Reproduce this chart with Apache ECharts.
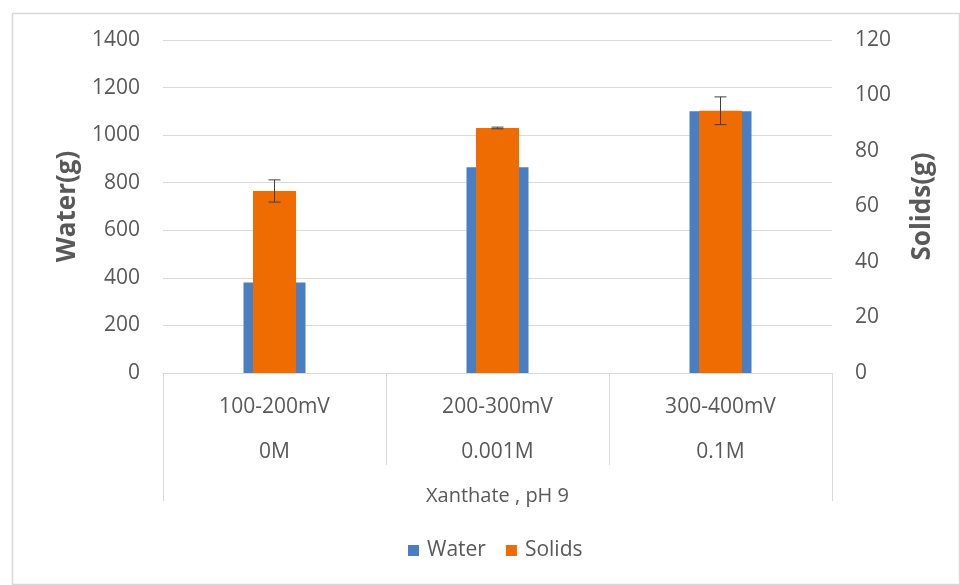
<!DOCTYPE html>
<html>
<head>
<meta charset="utf-8">
<script src="https://cdn.jsdelivr.net/npm/echarts@6/dist/echarts.min.js"></script>
<style>
html,body{margin:0;padding:0;background:#fff;}
#chart{width:960px;height:585px;}
</style>
</head>
<body>
<div id="chart"></div>
<script>
// ---- data ----
const potentials = ['100-200mV', '200-300mV', '300-400mV'];
const concentrations = ['0M', '0.001M', '0.1M'];
const groupLabel = ['Xanthate , pH 9'];
const waterValues = [380, 865, 1100];
const solidsValues = [65.6, 88.3, 94.5];
const solidsErrors = [4, 0.3, 5];
const waterTicks = [0, 1400, 200];   // min, max, interval
const solidsTicks = [0, 120, 20];

const FONT = '"Open Sans", Lato, sans-serif';
const TXT = '#595959';
const GRIDC = '#d9d9d9';

const chart = echarts.init(document.getElementById('chart'), null, {renderer: 'canvas'});

const errorData = solidsValues.map((v, i) => [i, v - solidsErrors[i], v + solidsErrors[i]]);

const option = {
  backgroundColor: '#fff',
  animation: false,
  textStyle: {fontFamily: FONT},
  graphic: [{
    type: 'rect', left: 10, top: 11,
    shape: {width: 947, height: 571},
    style: {fill: 'none', stroke: '#d9d9d9', lineWidth: 1.5},
    silent: true, z: -10
  }],
  grid: {left: 163, right: 128, top: 40, bottom: 212},
  legend: {
    data: ['Water', 'Solids'],
    bottom: 19, left: 403,
    icon: 'rect', itemWidth: 11, itemHeight: 11, itemGap: 20,
    textStyle: {fontFamily: FONT, fontSize: 21, color: TXT, padding: [0, 0, 0, 3]}
  },
  xAxis: [
    {
      type: 'category', data: potentials.map((p, i) => i),
      axisLine: {lineStyle: {color: GRIDC, width: 1}},
      axisTick: {show: true, length: 92, lineStyle: {color: GRIDC}},
      axisLabel: {
        margin: 12, interval: 0,
        formatter: (v) => potentials[v] + '\n' + concentrations[v],
        fontFamily: FONT, fontSize: 21, color: TXT, lineHeight: 45
      }
    },
    {
      type: 'category', data: potentials, show: false
    },
    {
      type: 'category', data: groupLabel, position: 'bottom',
      axisLine: {show: false},
      axisTick: {show: true, length: 128, lineStyle: {color: GRIDC}},
      axisLabel: {margin: 113, fontFamily: FONT, fontSize: 20, color: TXT}
    }
  ],
  yAxis: [
    {
      type: 'value', min: waterTicks[0], max: waterTicks[1], interval: waterTicks[2],
      name: 'Water(g)', nameLocation: 'middle', nameGap: 76, nameRotate: 90,
      nameTextStyle: {fontFamily: FONT, fontSize: 26, fontWeight: 'bold', color: TXT},
      axisLine: {show: false}, axisTick: {show: false},
      axisLabel: {margin: 23, fontFamily: FONT, fontSize: 21, color: TXT, formatter: (v) => String(v)},
      splitLine: {lineStyle: {color: GRIDC, width: 1}}
    },
    {
      type: 'value', min: solidsTicks[0], max: solidsTicks[1], interval: solidsTicks[2],
      name: 'Solids(g)', nameLocation: 'middle', nameGap: 78, nameRotate: 90,
      nameTextStyle: {fontFamily: FONT, fontSize: 26, fontWeight: 'bold', color: TXT},
      axisLine: {show: false}, axisTick: {show: false},
      axisLabel: {margin: 23, fontFamily: FONT, fontSize: 21, color: TXT, formatter: (v) => String(v)},
      splitLine: {show: false}
    }
  ],
  series: [
    {
      name: 'Water', type: 'bar', xAxisIndex: 0, yAxisIndex: 0,
      data: waterValues, barWidth: 62,
      itemStyle: {color: '#4A7EC3'}
    },
    {
      name: 'Solids', type: 'bar', xAxisIndex: 1, yAxisIndex: 1,
      data: solidsValues, barWidth: 43,
      itemStyle: {color: '#EE6C02'}, z: 3
    },
    {
      name: 'SolidsError', type: 'custom', xAxisIndex: 1, yAxisIndex: 1,
      data: errorData, z: 5, silent: true,
      renderItem: function (params, api) {
        const x = api.value(0);
        const lo = api.coord([x, api.value(1)]);
        const hi = api.coord([x, api.value(2)]);
        const cap = 6;
        const st = {stroke: '#404040', lineWidth: 1};
        return {
          type: 'group',
          children: [
            {type: 'line', shape: {x1: hi[0], y1: hi[1], x2: lo[0], y2: lo[1]}, style: st},
            {type: 'line', shape: {x1: hi[0] - cap, y1: hi[1], x2: hi[0] + cap, y2: hi[1]}, style: st},
            {type: 'line', shape: {x1: lo[0] - cap, y1: lo[1], x2: lo[0] + cap, y2: lo[1]}, style: st}
          ]
        };
      }
    }
  ]
};
chart.setOption(option);
</script>
</body>
</html>
